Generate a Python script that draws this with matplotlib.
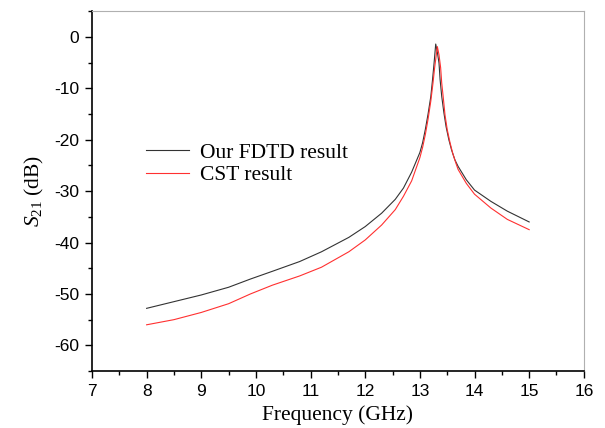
import matplotlib
matplotlib.use("Agg")
import matplotlib.pyplot as plt
from matplotlib.ticker import MultipleLocator

# S21
freq_fdtd = [8.0, 8.5, 9.0, 9.5, 9.9, 10.3, 10.8, 11.2, 11.7, 12.0, 12.3, 12.55, 12.7,
             12.85, 13.0, 13.05, 13.1, 13.15, 13.2, 13.23, 13.26, 13.29, 13.32, 13.35,
             13.37, 13.4, 13.44, 13.48, 13.53, 13.58, 13.64, 13.7, 13.85, 14.0, 14.3,
             14.6, 15.0]
s21_fdtd = [-52.8, -51.5, -50.2, -48.7, -47.1, -45.6, -43.7, -41.8, -39.0, -36.9, -34.3,
            -31.6, -29.4, -26.3, -22.5, -20.6, -18.0, -15.0, -11.6, -8.5, -5.1, -1.4,
            -3.0, -5.1, -8.3, -11.6, -14.8, -17.5, -20.0, -22.0, -23.9, -25.2, -27.8,
            -29.8, -32.0, -33.9, -36.0]

freq_cst = [8.0, 8.5, 9.0, 9.5, 9.9, 10.3, 10.8, 11.2, 11.7, 12.0, 12.3, 12.55, 12.7,
            12.85, 13.0, 13.05, 13.1, 13.15, 13.2, 13.24, 13.27, 13.32, 13.35, 13.38,
            13.4, 13.43, 13.46, 13.5, 13.55, 13.6, 13.66, 13.7, 13.85, 14.0, 14.3,
            14.6, 15.0]
s21_cst = [-56.0, -55.0, -53.6, -51.9, -50.0, -48.3, -46.5, -44.8, -41.8, -39.5, -36.6,
           -33.6, -31.0, -28.0, -23.5, -21.5, -19.0, -16.0, -12.5, -9.0, -6.0, -1.9,
           -3.5, -6.0, -9.0, -12.0, -15.2, -18.0, -20.5, -22.6, -24.6, -25.8, -28.5,
           -30.6, -33.3, -35.5, -37.5]

plt.rcParams["axes.unicode_minus"] = False
plt.rcParams["mathtext.fontset"] = "custom"
plt.rcParams["mathtext.rm"] = "Liberation Serif"
plt.rcParams["mathtext.it"] = "Liberation Serif:italic"

fig = plt.figure(figsize=(6.05, 4.28), dpi=100)
ax = fig.add_axes([0.152, 0.133, 0.813, 0.841])

ax.plot(freq_fdtd, s21_fdtd, color="#333333", lw=0.8, label="Our FDTD result")
ax.plot(freq_cst, s21_cst, color="#ff3030", lw=0.8, label="CST result")

ax.set_xlim(7, 16)
ax.set_ylim(-65, 5)
ax.xaxis.set_major_locator(MultipleLocator(1))
ax.xaxis.set_minor_locator(MultipleLocator(0.5))
ax.yaxis.set_major_locator(MultipleLocator(10))
ax.yaxis.set_minor_locator(MultipleLocator(5))
ax.tick_params(which="both", direction="out", top=False, right=False, width=1)
ax.tick_params(which="major", length=5, pad=4)
ax.tick_params(which="minor", length=3)
for lab in ax.get_xticklabels() + ax.get_yticklabels():
    lab.set_family("Liberation Sans")
    lab.set_fontsize(12.5)
for s in ("top", "right"):
    ax.spines[s].set_color("#b0b0b0")
for s in ("left", "bottom"):
    ax.spines[s].set_linewidth(1.2)

ax.set_xlabel("Frequency (GHz)", family="Liberation Serif", fontsize=15.5, labelpad=5)
ax.set_ylabel(r"$S_{21}$ (dB)", family="Liberation Serif", fontsize=15.5, labelpad=6)

ax.legend(loc="center left", bbox_to_anchor=(0.07, 0.575), frameon=False,
          prop={"family": "Liberation Serif", "size": 15.5}, handlelength=2.0,
          labelspacing=0.1, handletextpad=0.5)

fig.savefig("out.png", dpi=100)
